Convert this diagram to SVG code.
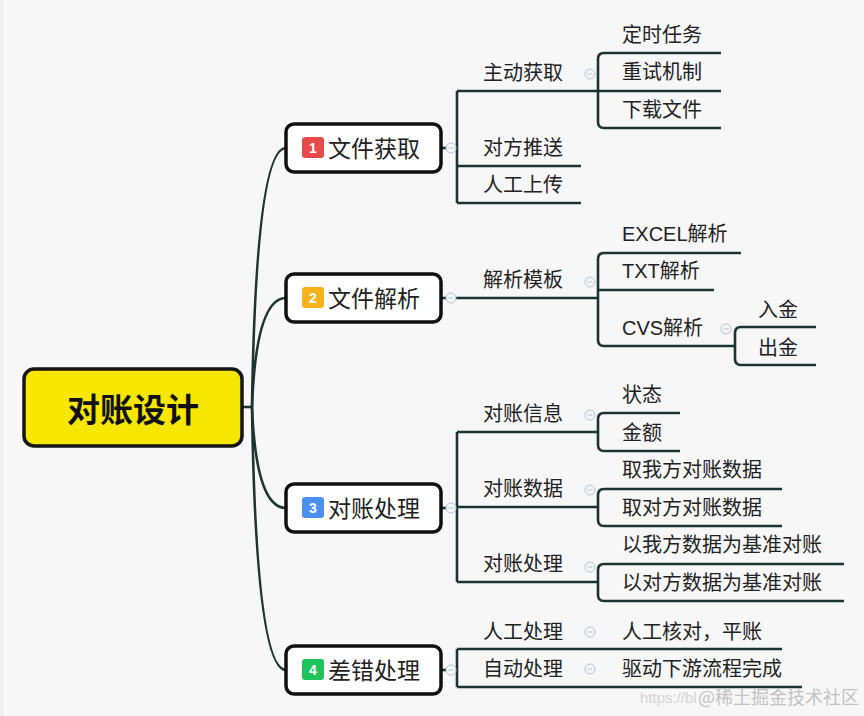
<svg xmlns="http://www.w3.org/2000/svg" width="864" height="716" viewBox="0 0 864 716">
<style>
.ln{fill:none;stroke:#1b3530;stroke-width:2.6;stroke-linecap:butt}
.node{fill:#ffffff;stroke:#0f0f0f;stroke-width:3.5}
.root{fill:#f7e600;stroke:#151515;stroke-width:3.5}
.t1{font-family:"Noto Sans CJK SC",sans-serif;font-size:23px;fill:#222}
.t2{font-family:"Liberation Sans","Noto Sans CJK SC",sans-serif;font-size:20px;fill:#222}
.rt{font-family:"Noto Sans CJK SC",sans-serif;font-size:33px;font-weight:bold;fill:#111}
.bt{font-family:"Liberation Sans",sans-serif;font-size:14px;font-weight:bold;fill:#fff}
.cc{fill:#f4f7fa;stroke:#b5c3d3;stroke-width:1}
.cm{stroke:#b5c3d3;stroke-width:1}
</style>
<defs>
<g id="col"><circle class="cc" r="5"/><line class="cm" x1="-2.5" y1="0" x2="2.5" y2="0"/></g>
</defs>
<rect x="0" y="0" width="864" height="716" fill="#f7f7f7"/>
<rect x="0" y="0" width="3" height="716" fill="#eeeeee"/>

<g id="connectors">
<path class="ln" d="M242 407 H252"/>
<path class="ln" d="M252 407 Q256 148 286 148"/>
<path class="ln" d="M252 407 Q256 298 286 298"/>
<path class="ln" d="M252 407 Q256 508 286 508"/>
<path class="ln" d="M252 407 Q256 670 286 670"/>
<!-- node1 children -->
<path class="ln" d="M441 148 H457"/>
<path class="ln" d="M457 91 V203"/>
<path class="ln" d="M457 91 H721"/>
<path class="ln" d="M457 166 H581"/>
<path class="ln" d="M457 203 H581"/>
<path class="ln" d="M721 53 H604 Q598 53 598 59 V122 Q598 128 604 128 H721"/>
<!-- node2 children -->
<path class="ln" d="M441 298 H598"/>
<path class="ln" d="M741 253 H604 Q598 253 598 259 V340 Q598 346 604 346 H735"/>
<path class="ln" d="M598 290 H714"/>
<path class="ln" d="M816 327 H741 Q735 327 735 333 V359 Q735 365 741 365 H816"/>
<!-- node3 children -->
<path class="ln" d="M441 508 H457"/>
<path class="ln" d="M457 432 V582"/>
<path class="ln" d="M457 432 H598"/>
<path class="ln" d="M457 507 H598"/>
<path class="ln" d="M457 582 H598"/>
<path class="ln" d="M680 413 H604 Q598 413 598 419 V445 Q598 451 604 451 H680"/>
<path class="ln" d="M782 489 H604 Q598 489 598 495 V520 Q598 526 604 526 H782"/>
<path class="ln" d="M844 564 H604 Q598 564 598 570 V595 Q598 601 604 601 H844"/>
<!-- node4 children -->
<path class="ln" d="M441 670 H457"/>
<path class="ln" d="M457 649 V687"/>
<path class="ln" d="M457 649 H782"/>
<path class="ln" d="M457 687 H802"/>
</g>

<g id="root">
<rect class="root" x="24" y="369" width="218" height="77" rx="10"/>
<text class="rt" x="133" y="408" text-anchor="middle" dominant-baseline="central">对账设计</text>
</g>

<g id="n1">
<rect class="node" x="286" y="124" width="155" height="48" rx="8"/>
<rect x="302" y="137" width="22" height="21" rx="3" fill="#e84a4a"/>
<text class="bt" x="313" y="148" text-anchor="middle" dominant-baseline="central">1</text>
<text class="t1" x="328" y="147" dominant-baseline="central">文件获取</text>
<use href="#col" x="451" y="148"/>
</g>
<g id="n2">
<rect class="node" x="286" y="274" width="155" height="48" rx="8"/>
<rect x="302" y="287" width="22" height="21" rx="3" fill="#f8b21a"/>
<text class="bt" x="313" y="298" text-anchor="middle" dominant-baseline="central">2</text>
<text class="t1" x="328" y="297" dominant-baseline="central">文件解析</text>
<use href="#col" x="451" y="298"/>
</g>
<g id="n3">
<rect class="node" x="286" y="484" width="155" height="48" rx="8"/>
<rect x="302" y="497" width="22" height="21" rx="3" fill="#4c8ff0"/>
<text class="bt" x="313" y="508" text-anchor="middle" dominant-baseline="central">3</text>
<text class="t1" x="328" y="507" dominant-baseline="central">对账处理</text>
<use href="#col" x="451" y="508"/>
</g>
<g id="n4">
<rect class="node" x="286" y="646" width="155" height="48" rx="8"/>
<rect x="302" y="659" width="22" height="21" rx="3" fill="#1fc45c"/>
<text class="bt" x="313" y="670" text-anchor="middle" dominant-baseline="central">4</text>
<text class="t1" x="328" y="669" dominant-baseline="central">差错处理</text>
<use href="#col" x="451" y="670"/>
</g>

<g id="n1-1"><text class="t2" x="483" y="73" dominant-baseline="central">主动获取</text><use href="#col" x="590" y="74"/></g>
<g id="n1-1-1"><text class="t2" x="622" y="35" dominant-baseline="central">定时任务</text></g>
<g id="n1-1-2"><text class="t2" x="622" y="72" dominant-baseline="central">重试机制</text></g>
<g id="n1-1-3"><text class="t2" x="622" y="110" dominant-baseline="central">下载文件</text></g>
<g id="n1-2"><text class="t2" x="483" y="148" dominant-baseline="central">对方推送</text></g>
<g id="n1-3"><text class="t2" x="483" y="185" dominant-baseline="central">人工上传</text></g>

<g id="n2-1"><text class="t2" x="483" y="280" dominant-baseline="central">解析模板</text><use href="#col" x="590" y="282"/></g>
<g id="n2-1-1"><text class="t2" x="622" y="234" dominant-baseline="central">EXCEL解析</text></g>
<g id="n2-1-2"><text class="t2" x="622" y="271" dominant-baseline="central">TXT解析</text></g>
<g id="n2-1-3"><text class="t2" x="622" y="328" dominant-baseline="central">CVS解析</text><use href="#col" x="726" y="329"/></g>
<g id="n2-1-3-1"><text class="t2" x="758" y="310" dominant-baseline="central">入金</text></g>
<g id="n2-1-3-2"><text class="t2" x="758" y="348" dominant-baseline="central">出金</text></g>

<g id="n3-1"><text class="t2" x="483" y="414" dominant-baseline="central">对账信息</text><use href="#col" x="590" y="415"/></g>
<g id="n3-1-1"><text class="t2" x="622" y="395" dominant-baseline="central">状态</text></g>
<g id="n3-1-2"><text class="t2" x="622" y="433" dominant-baseline="central">金额</text></g>
<g id="n3-2"><text class="t2" x="483" y="489" dominant-baseline="central">对账数据</text><use href="#col" x="590" y="490"/></g>
<g id="n3-2-1"><text class="t2" x="622" y="470" dominant-baseline="central">取我方对账数据</text></g>
<g id="n3-2-2"><text class="t2" x="622" y="508" dominant-baseline="central">取对方对账数据</text></g>
<g id="n3-3"><text class="t2" x="483" y="564" dominant-baseline="central">对账处理</text><use href="#col" x="590" y="567"/></g>
<g id="n3-3-1"><text class="t2" x="622" y="545" dominant-baseline="central">以我方数据为基准对账</text></g>
<g id="n3-3-2"><text class="t2" x="622" y="583" dominant-baseline="central">以对方数据为基准对账</text></g>

<g id="n4-1"><text class="t2" x="483" y="632" dominant-baseline="central">人工处理</text><use href="#col" x="590" y="632"/></g>
<g id="n4-1-1"><text class="t2" x="622" y="632" dominant-baseline="central">人工核对，平账</text></g>
<g id="n4-2"><text class="t2" x="483" y="669" dominant-baseline="central">自动处理</text><use href="#col" x="590" y="669"/></g>
<g id="n4-2-1"><text class="t2" x="622" y="669" dominant-baseline="central">驱动下游流程完成</text></g>

<g id="watermark">
<text x="640" y="703" font-family="Liberation Sans,sans-serif" font-size="15" fill="#d4d4d4">https://bl</text>
<text x="698" y="704" font-family="Noto Sans CJK SC,sans-serif" font-size="18" fill="#c2c2c2">@稀土掘金技术社区</text>
</g>
</svg>
